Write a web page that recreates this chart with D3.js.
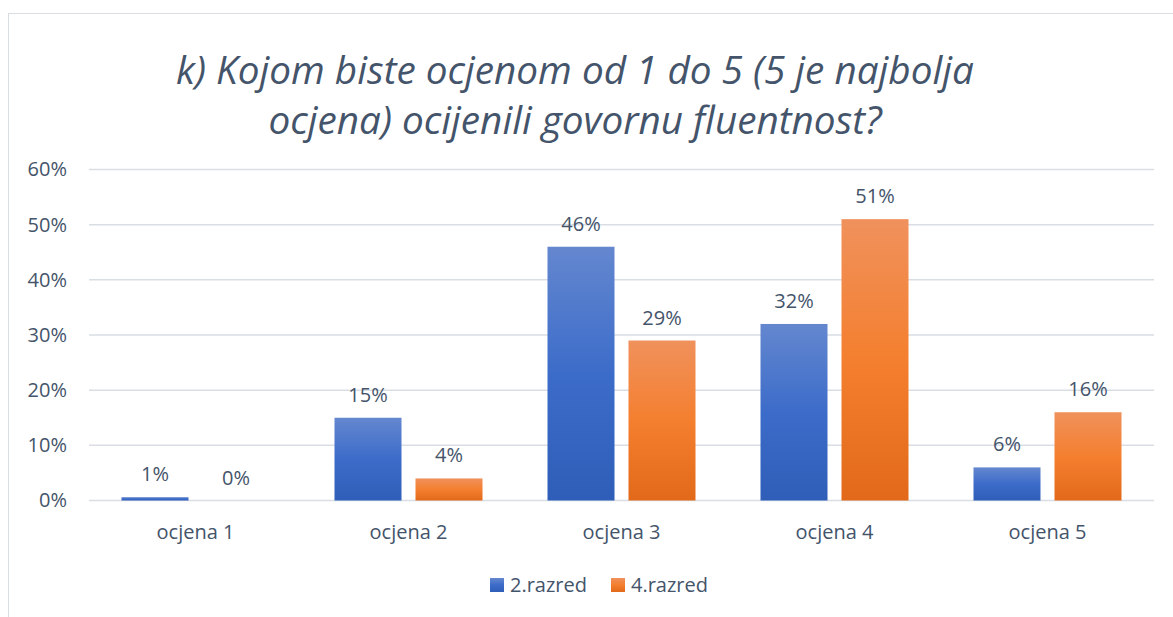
<!DOCTYPE html>
<html><head><meta charset="utf-8">
<script src="https://cdn.jsdelivr.net/npm/d3@7"></script>
<style>body{margin:0;background:#fff;} svg{display:block;font-family:"Open Sans",sans-serif;}</style>
</head><body><svg id="c" width="1173" height="617"></svg>
<script>
const categories = ["ocjena 1","ocjena 2","ocjena 3","ocjena 4","ocjena 5"];
const seriesNames = ["2.razred","4.razred"];
const values2 = [0.6,15,46,32,6];
const values4 = [0,4,29,51,16];
const yTicks = [0,10,20,30,40,50,60];
const titleLines = ["k) Kojom biste ocjenom od 1 do 5 (5 je najbolja","ocjena) ocijenili govornu fluentnost?"];

(function(){
const svg = d3.select("#c");
const txt = "#44546A";
const grid = "#D9DEE5";
const fs = 20;

const defs = svg.append("defs");
function grad(id, stops){
  const g = defs.append("linearGradient").attr("id",id).attr("x1",0).attr("y1",0).attr("x2",0).attr("y2",1);
  stops.forEach(s=>g.append("stop").attr("offset",s[0]).attr("stop-color",s[1]));
}
grad("gBlue",[[0,"#6487CF"],[0.5,"#3C6CC9"],[1,"#2F5EB8"]]);
grad("gOrange",[[0,"#F0915C"],[0.5,"#F47F2F"],[1,"#E2691A"]]);
const fills = ["url(#gBlue)","url(#gOrange)"];

// chart border
svg.append("rect").attr("x",8.5).attr("y",13.5).attr("width",1180).attr("height",620)
  .attr("fill","none").attr("stroke",grid).attr("stroke-width",1);

const pLeft=89, pRight=1154, pTop=169.5, pBottom=500.5;
const x0 = d3.scaleBand().domain(categories).range([pLeft,pRight]).paddingInner(0).paddingOuter(0);
const y = d3.scaleLinear().domain([0,60]).range([pBottom,pTop]);
const bw = x0.bandwidth()*67/213;
const sgap = x0.bandwidth()*14/213;

// gridlines
svg.append("g").selectAll("line").data(yTicks).join("line")
  .attr("x1",pLeft).attr("x2",pRight).attr("y1",d=>y(d)).attr("y2",d=>y(d))
  .attr("stroke",grid).attr("stroke-width",1.5);

// y axis labels
const yAxis = d3.axisLeft(y).tickValues(yTicks).tickFormat(d=>d+"%").tickSize(0).tickPadding(0);
const ya = svg.append("g").attr("transform",`translate(${67},0)`).call(yAxis);
ya.select(".domain").remove();
ya.selectAll("text").attr("fill",txt).attr("font-size",fs).attr("font-family","Open Sans");

// x axis labels
const xAxis = d3.axisBottom(x0).tickSize(0).tickPadding(0);
const xa = svg.append("g").attr("transform",`translate(0,${pBottom+24.5})`).call(xAxis);
xa.select(".domain").remove();
xa.selectAll("text").attr("fill",txt).attr("font-size",fs).attr("font-family","Open Sans");

const series = [values2, values4];
series.forEach((vals,si)=>{
  const g = svg.append("g");
  const bx = c => x0(c) + x0.bandwidth()/2 + (si===0 ? -(bw+sgap/2) : sgap/2);
  g.selectAll("rect").data(categories).join("rect")
    .attr("x",c=>bx(c)).attr("width",bw)
    .attr("y",(c,i)=>y(vals[i])).attr("height",(c,i)=>y(0)-y(vals[i]))
    .attr("fill",fills[si]);
  g.selectAll("text").data(categories).join("text")
    .attr("x",c=>bx(c)+bw/2).attr("y",(c,i)=>y(vals[i])-16)
    .attr("text-anchor","middle").attr("fill",txt).attr("font-size",fs)
    .text((c,i)=>Math.round(vals[i])+"%");
});

// title
const tg = svg.append("g");
titleLines.forEach((t,i)=>{
  tg.append("text").attr("x",575).attr("y",[84,134][i]).attr("text-anchor","middle")
    .attr("font-style","italic").attr("font-size",38.7).attr("fill",txt).text(t);
});

// legend
const lg = svg.append("g");
const lx = [490,611];
seriesNames.forEach((n,i)=>{
  lg.append("rect").attr("x",lx[i]).attr("y",578).attr("width",14).attr("height",14).attr("fill",fills[i]);
  lg.append("text").attr("x",lx[i]+20).attr("y",592).attr("font-size",fs).attr("fill",txt).text(n);
});
})();
</script></body></html>
